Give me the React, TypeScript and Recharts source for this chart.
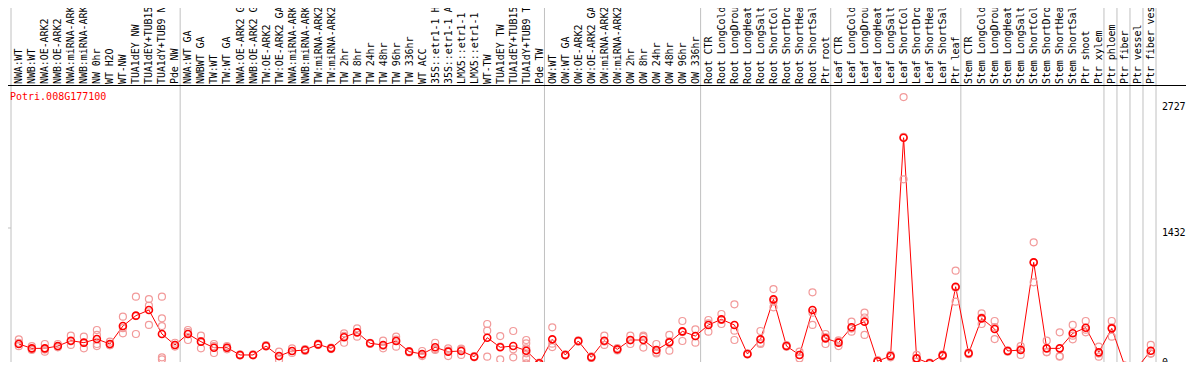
import React from "react";
import { ComposedChart, Line, Scatter, XAxis, YAxis, ReferenceLine } from "recharts";

const GENE_ID = "Potri.008G177100";

const CATEGORIES = [
  "NWA:WT", "NWB:WT", "NWA:OE-ARK2", "NWB:OE-ARK2", "NWA:miRNA-ARK2", "NWB:miRNA-ARK2", "NW 0hr",
  "WT H2O", "WT-NW", "TUA1dEY NW", "TUA1dEY+TUB15", "TUA1dY+TUB9 NW", "Pde NW",
  "NWA:WT GA", "NWBWT GA", "TW:WT", "TW:WT GA", "NWA:OE-ARK2 GA", "NWB:OE-ARK2 GA", "TW:OE-ARK2",
  "TW:OE-ARK2 GA", "NWA:miRNA-ARK2", "NWB:miRNA-ARK2", "TW:miRNA-ARK2", "TW:miRNA-ARK2", "TW 2hr",
  "TW 8hr", "TW 24hr", "TW 48hr", "TW 96hr", "TW 336hr", "WT ACC", "35S::etr1-1 H2O", "35S::etr1-1 ACC",
  "LMX5::etr1-1 H2O", "LMX5::etr1-1 ACC", "WT-TW", "TUA1dEY TW", "TUA1dEY+TUB15", "TUA1dY+TUB9 TW", "Pde TW",
  "OW:WT", "OW:WT GA", "OW:OE-ARK2", "OW:OE-ARK2 GA", "OW:miRNA-ARK2", "OW:miRNA-ARK2", "OW 2hr",
  "OW 8hr", "OW 24hr", "OW 48hr", "OW 96hr", "OW 336hr",
  "Root CTR", "Root LongCold", "Root LongDrought", "Root LongHeat", "Root LongSalt", "Root ShortCold",
  "Root ShortDrought", "Root ShortHeat", "Root ShortSalt", "Ptr root",
  "Leaf CTR", "Leaf LongCold", "Leaf LongDrought", "Leaf LongHeat", "Leaf LongSalt", "Leaf ShortCold",
  "Leaf ShortDrought", "Leaf ShortHeat", "Leaf ShortSalt", "Ptr leaf",
  "Stem CTR", "Stem LongCold", "Stem LongDrought", "Stem LongHeat", "Stem LongSalt", "Stem ShortCold",
  "Stem ShortDrought", "Stem ShortHeat", "Stem ShortSalt", "Ptr shoot", "Ptr xylem",
  "Ptr phloem", "Ptr fiber", "Ptr vessel", "Ptr fiber vessel",
];

const MEANS = [
  237, 192, 192, 216, 271, 251, 288, 237, 422, 529, 587, 340, 227,
  340, 261, 199, 199, 124, 124, 216, 113, 165, 175, 233, 192, 306, 357, 244, 227, 268, 158, 134, 203, 158,
  165, 106, 302, 203, 216, 168, 38,
  285, 124, 268, 100, 271, 182, 278, 278, 175, 254, 367, 319,
  433, 491, 433, 134, 285, 697, 216, 124, 587, 295,
  251, 409, 467, 60, 113, 2362, 89, 38, 120, 827,
  141, 501, 391, 165, 175, 1078, 192, 192, 347, 405, 151,
  398, 10, 0, 168,
];

const REPLICATES: number[][] = [
  [285, 250, 215], [216, 185, 175], [237, 180, 158], [237, 210, 203], [323, 264, 227], [312, 250, 192],
  [381, 330, 237, 216], [261, 227, 223], [518, 400, 347], [724, 525, 340], [700, 632, 433],
  [724, 501, 422, 100, 79], [250, 227, 210],
  [381, 360, 278], [323, 268, 192], [237, 215, 144], [216, 199, 182], [130, 124, 118], [130, 120],
  [225, 210], [158, 110, 72], [192, 165, 144], [185, 165], [240, 226], [200, 185], [347, 320, 250],
  [398, 360, 312], [250, 238], [271, 218, 192], [312, 283, 209], [165, 150], [165, 125, 113],
  [250, 185, 175], [192, 170, 113], [190, 180, 124], [112, 100], [443, 374, 106], [319, 210, 79],
  [371, 182, 100], [278, 244, 192, 141, 89, 38], [45, 32],
  [409, 240, 205], [130, 118], [275, 260], [110, 92], [323, 262, 227], [195, 170], [323, 275, 237],
  [323, 310, 200], [237, 150, 140], [330, 265, 168], [474, 360, 268], [388, 318, 251],
  [484, 450, 364], [546, 484, 443], [646, 374, 278], [140, 128], [371, 248, 237], [803, 673, 615],
  [225, 208], [158, 124, 89], [769, 560, 433], [340, 308, 237],
  [275, 262, 216], [467, 396, 364], [560, 510, 330], [70, 55], [125, 100], [2781, 2372, 1933],
  [124, 89, 55], [45, 30], [130, 110], [992, 816, 673],
  [150, 132], [553, 508, 443], [474, 411, 288], [172, 158], [216, 185, 124], [1284, 1078, 872],
  [271, 155, 151], [357, 113, 106], [433, 323, 285], [474, 384, 357], [209, 138, 106],
  [474, 408, 312], [15, 5], [5, 0], [227, 141, 136],
];

// column index where each sample group starts (last one closes the plot)
const GROUP_BREAKS = [0, 13, 41, 53, 63, 73, 84, 85, 86, 87, 88];
const Y_TICKS = [0, 1432, 2727];
const Y_MAX = 2905;

const COL_OFFSET = 0.6;
const LABEL_CHARS = 14; // header only has room for 14 characters
const CHAR_W = 6;
const FONT = "'DejaVu Sans Mono', 'Liberation Mono', monospace";

const lineData = CATEGORIES.map((name, i) => ({ x: i + COL_OFFSET, name, mean: MEANS[i] }));
const repData = REPLICATES.flatMap((vals, i) => vals.map((v) => ({ x: i + COL_OFFSET, value: v })));
const colTicks = CATEGORIES.map((_, i) => i + COL_OFFSET);

const HeaderTick = (props: any) => {
  const { x, payload } = props;
  const idx = Math.round(payload.value - COL_OFFSET);
  const label = (CATEGORIES[idx] || "").slice(0, LABEL_CHARS);
  return (
    <text
      transform={`translate(${x + 3.5},84) rotate(-90)`}
      fontSize={10}
      fontFamily={FONT}
      textLength={label.length * CHAR_W - 0.5}
      lengthAdjust="spacing"
      fill="#000"
      textAnchor="start"
    >
      {label}
    </text>
  );
};

const ValueTick = (props: any) => {
  const { y, payload } = props;
  const v = payload.value;
  const txt = v === 0 ? "0" : `${v}.`;
  return (
    <text
      x={1162}
      y={y + (v === 0 ? -1 : 8)}
      fontSize={10}
      fontFamily={FONT}
      textLength={txt.length * CHAR_W - 0.5}
      lengthAdjust="spacing"
      fill="#000"
      textAnchor="start"
    >
      {txt}
    </text>
  );
};

const App = () => {
  return (
    <div style={{ position: "relative", width: 1194, height: 370, margin: -8, overflow: "hidden", background: "#fff" }}>
      <ComposedChart width={1194} height={370} data={lineData} margin={{ top: 0, right: 0, left: 11, bottom: 3 }}>
        <XAxis
          xAxisId={0}
          type="number"
          dataKey="x"
          orientation="top"
          domain={[0, 88]}
          ticks={colTicks}
          interval={0}
          height={85}
          axisLine={false}
          tickLine={false}
          tick={<HeaderTick />}
          allowDataOverflow
        />
        <YAxis
          type="number"
          orientation="right"
          width={38}
          domain={[0, Y_MAX]}
          ticks={Y_TICKS}
          interval={0}
          axisLine={false}
          tickLine={false}
          tick={<ValueTick />}
          allowDataOverflow
        />
        {GROUP_BREAKS.map((b) => (
          <ReferenceLine
            key={b}
            x={b}
            stroke="#c0c0c0"
            shape={(p: any) => <line x1={p.x1} x2={p.x2} y1={0} y2={p.y2} stroke="#c0c0c0" strokeWidth={1} />}
          />
        ))}
        <ReferenceLine
          y={1432}
          stroke="#c0c0c0"
          shape={(p: any) => <line x1={1} x2={p.x2} y1={p.y1} y2={p.y2} stroke="#c0c0c0" strokeWidth={1} />}
        />
        <Scatter
          data={repData}
          dataKey="value"
          isAnimationActive={false}
          shape={(p: any) => <circle cx={p.cx} cy={p.cy} r={3.5} fill="none" stroke="#f29a9a" strokeWidth={1.2} />}
        />
        <Line
          dataKey="mean"
          type="linear"
          stroke="#ff0000"
          strokeWidth={1}
          dot={{ r: 3.5, stroke: "#ff0000", strokeWidth: 1.6, fill: "none" }}
          activeDot={false}
          isAnimationActive={false}
        />
      </ComposedChart>
      <div style={{ position: "absolute", left: 0, top: 85, width: 1194, height: 1, background: "#000" }} />
      <div
        style={{
          position: "absolute",
          left: 0,
          top: 0,
          width: 1194,
          height: 370,
          border: "1px solid #000",
          boxSizing: "border-box",
          pointerEvents: "none",
        }}
      />
      <div
        style={{
          position: "absolute",
          left: 10,
          top: 92,
          fontFamily: FONT,
          fontSize: 10,
          lineHeight: "10px",
          color: "#ff0000",
        }}
      >
        {GENE_ID}
      </div>
    </div>
  );
};

export default App;
